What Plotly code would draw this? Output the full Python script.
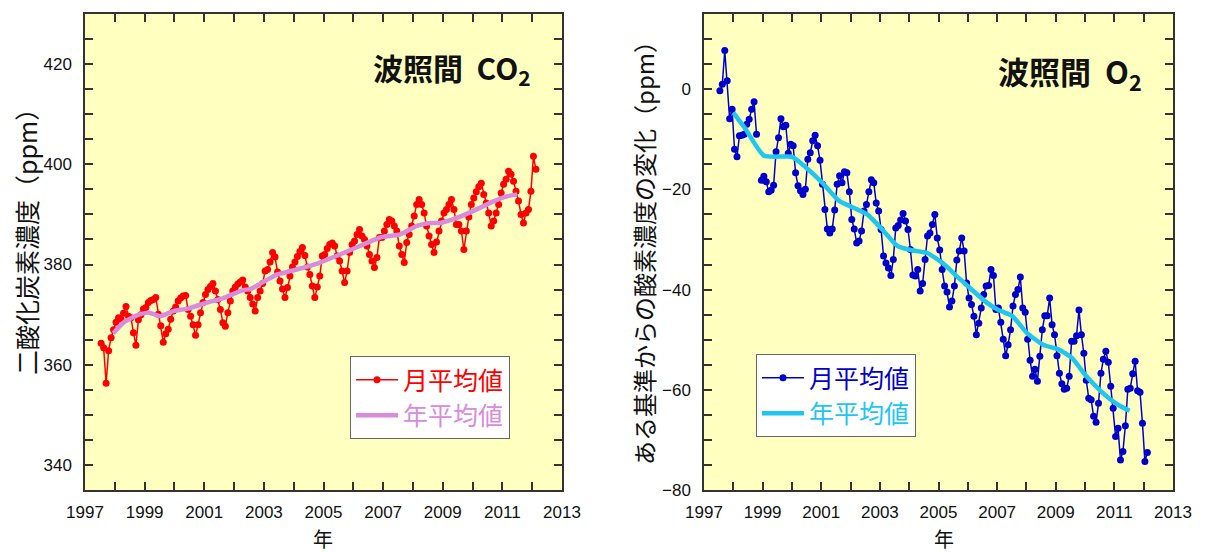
import plotly.graph_objects as go

W, H = 1207, 552
CJK = "Noto Sans CJK JP"
LAT = "Arial, Liberation Sans, sans-serif"

# ---------------- data ----------------
# Hateruma CO2 monthly means (ppm), first value = Jul 1997
co2_start = (1997, 7)
co2_monthly = [
    364.3, 363.4, 356.3, 362.8, 365.4, 367.0,                                   # 1997 Jul-Dec
    368.5, 369.4, 369.1, 370.3, 371.6, 369.7, 369.4, 366.4, 363.9, 369.0, 370.0, 371.1,  # 1998
    371.4, 372.4, 372.8, 373.0, 373.4, 370.1, 367.8, 364.5, 366.2, 367.1, 369.1, 370.7,  # 1999
    371.5, 372.7, 373.3, 373.7, 373.8, 371.0, 369.7, 368.0, 365.9, 368.0, 370.4, 372.4,  # 2000
    374.0, 375.0, 375.6, 376.2, 374.7, 373.0, 371.0, 368.4, 367.7, 370.4, 372.7, 374.7,  # 2001
    375.5, 376.1, 376.5, 376.9, 375.5, 374.7, 373.4, 372.1, 370.7, 373.4, 374.7, 376.2,  # 2002
    378.7, 379.0, 380.5, 382.4, 381.5, 378.5, 376.7, 375.1, 373.4, 375.4, 377.7, 379.5,  # 2003
    380.5, 381.6, 382.6, 383.4, 381.8, 379.5, 378.0, 375.7, 373.4, 375.5, 377.7, 381.7,  # 2004
    382.0, 383.2, 384.0, 384.3, 383.7, 381.7, 380.7, 378.7, 376.4, 378.7, 382.4, 384.0,  # 2005
    384.7, 386.0, 387.0, 385.7, 385.0, 383.7, 382.0, 380.7, 379.4, 381.4, 385.4, 385.4,  # 2006
    386.7, 388.0, 389.0, 388.7, 387.7, 386.7, 383.7, 382.0, 380.4, 384.4, 386.0, 387.7,  # 2007
    389.7, 392.0, 393.0, 392.0, 390.3, 387.7, 385.7, 384.0, 382.4, 384.5, 386.7, 388.7,  # 2008
    390.3, 391.0, 392.0, 393.0, 391.0, 388.0, 388.0, 386.7, 383.0, 386.7, 389.5, 392.0,  # 2009
    393.3, 394.5, 395.5, 396.2, 394.0, 392.3, 390.3, 387.7, 388.7, 390.3, 392.0, 394.3,  # 2010
    396.0, 397.0, 398.6, 398.0, 396.6, 394.6, 392.7, 390.0, 388.3, 390.3, 391.0, 394.6,  # 2011
    401.6, 399.0,                                                               # 2012 Jan-Feb
]

# CO2 annual (running) mean
co2_annual_year = [1997.95, 1998.29, 1998.8, 1999.15, 1999.52, 1999.96, 2000.45, 2001.08,
                   2001.6, 2002.3, 2002.55, 2003.0, 2003.43, 2003.9, 2004.4, 2004.88,
                   2005.55, 2006.22, 2006.9, 2007.57, 2008.13, 2008.57, 2008.91, 2009.47,
                   2010.14, 2010.7, 2011.15, 2011.5]
co2_annual_ppm = [366.3, 368.4, 370.0, 370.4, 369.7, 370.7, 371.2, 372.4,
                  373.2, 374.9, 375.1, 376.6, 378.0, 378.7, 379.5, 380.4,
                  382.0, 383.7, 385.4, 386.0, 387.7, 388.3, 388.3, 389.3,
                  391.0, 392.6, 393.6, 394.0]

# Hateruma O2 change from a reference (ppm), first value = Jul 1997
o2_start = (1997, 7)
o2_monthly = [
    -0.3, 1.0, 7.7, 1.7, -5.9, -4.0,                                              # 1997 Jul-Dec
    -12.0, -13.5, -9.3, -9.2, -9.0, -7.0, -6.0, -4.0, -2.5, -9.0, None, -18.2,      # 1998
    -17.4, -18.5, -20.5, -20.2, -19.2, -12.5, -9.7, -5.9, -7.5, -7.2, -12.8, -11.0,  # 1999
    -11.3, -16.7, -19.3, -20.3, -21.0, -20.0, -14.0, -12.7, -10.3, -9.2, -11.3, -14.2,  # 2000
    -19.0, -24.0, -27.9, -28.7, -27.9, -24.1, -19.0, -17.3, -18.7, -16.5, -16.7, -20.5,  # 2001
    -26.0, -27.9, -30.7, -30.3, -28.3, -24.3, -23.0, -20.5, -18.1, -18.7, -22.7, -24.3,  # 2002
    -28.0, -33.3, -34.7, -35.7, -37.2, -34.0, -27.7, -27.2, -26.1, -24.8, -26.3, -28.0,  # 2003
    -32.0, -37.1, -37.3, -36.0, -40.3, -38.8, -34.0, -29.3, -28.7, -27.0, -25.0, -29.7,  # 2004
    -32.1, -36.0, -39.3, -40.5, -43.5, -42.3, -39.3, -34.1, -32.3, -29.7, -32.3, -38.7,  # 2005
    -41.7, -43.0, -45.3, -49.0, -46.7, -43.7, -41.0, -39.3, -39.2, -36.0, -37.2, -44.0,  # 2006
    -43.7, -46.5, -49.9, -53.2, -51.0, -48.0, -43.3, -41.0, -40.0, -37.5, -43.7, -44.5,  # 2007
    -49.9, -54.1, -57.3, -55.9, -58.3, -53.3, -48.0, -45.2, -45.2, -41.7, -47.0, -49.0,  # 2008
    -53.2, -56.7, -58.8, -59.9, -59.7, -57.3, -50.3, -50.3, -49.2, -44.1, -49.0, -52.7,  # 2009
    -58.1, -61.7, -62.0, -65.3, -66.5, -62.7, -56.7, -53.9, -52.3, -54.5, -59.3, -63.7,  # 2010
    -69.3, -67.7, -74.0, -72.3, -67.2, -59.9, -59.7, -56.8, -54.3, -60.2, -60.5, -66.7,  # 2011
    -74.3, -72.5,                                                                  # 2012 Jan-Feb
]

o2_annual_year = [1998.0, 1998.42, 1999.05, 2000.01, 2000.41, 2001.04, 2001.61, 2002.23,
                  2002.57, 2003.08, 2003.6, 2004.05, 2004.62, 2005.2, 2005.6, 2006.0,
                  2006.58, 2007.02, 2007.52, 2008.02, 2008.57, 2009.12, 2009.56, 2010.0,
                  2010.44, 2010.88, 2011.21, 2011.52]
o2_annual_ppm = [-4.7, -8.0, -13.3, -13.5, -15.3, -18.7, -22.3, -24.0,
                 -25.0, -28.0, -31.3, -32.1, -32.7, -35.0, -37.2, -39.3,
                 -42.3, -44.0, -45.3, -48.7, -51.0, -52.0, -53.7, -57.0,
                 -59.7, -62.0, -63.3, -64.2]

legend_monthly = "月平均値"
legend_annual = "年平均値"

# ---------------- colours ----------------
C_RED = "#FF0000"
C_ORCHID = "#D98BDD"
C_BLUE = "#0000CC"
C_CYAN = "#1EC6F0"
BG = "#FFFFC0"


def month_positions(start, n):
    y0, m0 = start
    return [y0 + (m0 - 1 + i + 0.5) / 12.0 for i in range(n)]


co2_x = month_positions(co2_start, len(co2_monthly))
o2_x = month_positions(o2_start, len(o2_monthly))

fig = go.Figure()

fig.add_trace(go.Scatter(
    x=co2_x, y=co2_monthly, mode="lines+markers",
    line=dict(color=C_RED, width=1.5), marker=dict(color=C_RED, size=7),
    name=f'<span style="color:{C_RED}">{legend_monthly}</span>',
    xaxis="x", yaxis="y", legend="legend"))
fig.add_trace(go.Scatter(
    x=co2_annual_year, y=co2_annual_ppm, mode="lines",
    line=dict(color=C_ORCHID, width=4.5, shape="spline", smoothing=0.5),
    name=f'<span style="color:{C_ORCHID}">{legend_annual}</span>',
    xaxis="x", yaxis="y", legend="legend"))

fig.add_trace(go.Scatter(
    x=o2_x, y=o2_monthly, mode="lines+markers", connectgaps=False,
    line=dict(color=C_BLUE, width=1.5), marker=dict(color=C_BLUE, size=7),
    name=f'<span style="color:{C_BLUE}">{legend_monthly}</span>',
    xaxis="x2", yaxis="y2", legend="legend2"))
fig.add_trace(go.Scatter(
    x=o2_annual_year, y=o2_annual_ppm, mode="lines",
    line=dict(color=C_CYAN, width=4.5, shape="spline", smoothing=0.5),
    name=f'<span style="color:{C_CYAN}">{legend_annual}</span>',
    xaxis="x2", yaxis="y2", legend="legend2"))

ydom = [1 - 490 / H, 1 - 14 / H]
common_axis = dict(showline=True, linecolor="#333333", linewidth=1.5, mirror="ticks",
                   ticks="inside", ticklen=8, tickwidth=1.5, tickcolor="#333333",
                   showgrid=False, zeroline=False, automargin=False,
                   tickfont=dict(family=LAT, size=17, color="#111111"))
minor_ticks = dict(ticks="inside", ticklen=8, tickwidth=1.5, tickcolor="#333333", showgrid=False)

legend_common = dict(xanchor="left", yanchor="top", bgcolor="white", bordercolor="#666666",
                     borderwidth=1, font=dict(family=CJK, size=25), tracegroupgap=0,
                     itemwidth=42)

fig.update_layout(
    width=W, height=H,
    margin=dict(l=0, r=0, t=0, b=0),
    paper_bgcolor="white", plot_bgcolor=BG,
    showlegend=True,
    xaxis=dict(domain=[85 / W, 562 / W], range=[1997, 2013], anchor="y", ticklabelstandoff=6,
               tick0=1997, dtick=2, minor=dict(dtick=1, **minor_ticks), **common_axis),
    yaxis=dict(domain=ydom, range=[335, 430], anchor="x", ticklabelstandoff=8,
               tick0=340, dtick=20, minor=dict(dtick=5, **minor_ticks), **common_axis),
    xaxis2=dict(domain=[704 / W, 1173 / W], range=[1997, 2013], anchor="y2", ticklabelstandoff=6,
                tick0=1997, dtick=2, minor=dict(dtick=1, **minor_ticks), **common_axis),
    yaxis2=dict(domain=ydom, range=[-80, 15], anchor="x2", ticklabelstandoff=8,
                tick0=0, dtick=20, minor=dict(dtick=5, **minor_ticks), **common_axis),
    legend=dict(x=350 / W, y=1 - 356 / H, **legend_common),
    legend2=dict(x=756 / W, y=1 - 354 / H, **legend_common),
)

ann = [
    dict(text="<b>波照間\u00a0 CO<sub>2</sub></b>", x=533 / W, y=1 - 68 / H,
         xanchor="right", yanchor="middle", font=dict(family=CJK, size=30, color="#111111")),
    dict(text="<b>波照間\u00a0\u00a0O<sub>2</sub></b>", x=1144 / W, y=1 - 72 / H,
         xanchor="right", yanchor="middle", font=dict(family=CJK, size=31, color="#111111")),
    dict(text="二酸化炭素濃度（ppm）", x=26 / W, y=1 - 236 / H, textangle=-90,
         xanchor="center", yanchor="middle", font=dict(family=CJK, size=25, color="#111111")),
    dict(text="ある基準からの酸素濃度の変化（ppm）", x=643 / W, y=1 - 247 / H, textangle=-90,
         xanchor="center", yanchor="middle", font=dict(family=CJK, size=24, color="#111111")),
    dict(text="年", x=323 / W, y=1 - 538 / H, xanchor="center", yanchor="middle",
         font=dict(family=CJK, size=20, color="#111111")),
    dict(text="年", x=944 / W, y=1 - 538 / H, xanchor="center", yanchor="middle",
         font=dict(family=CJK, size=20, color="#111111")),
]
for a in ann:
    a.update(xref="paper", yref="paper", showarrow=False)
fig.update_layout(annotations=ann)

fig.write_html("out.html", config={"displayModeBar": False},
               post_script="document.body.style.margin='0px';document.body.style.overflow='hidden';")
